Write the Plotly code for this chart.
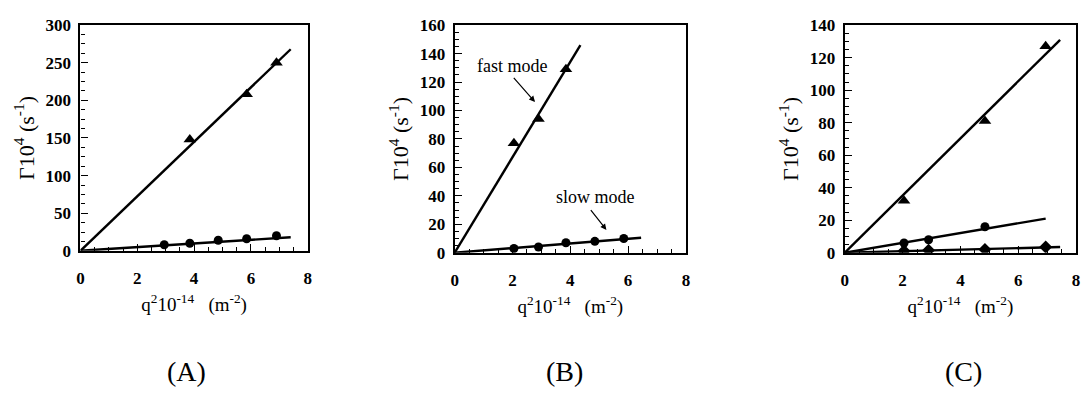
import plotly.graph_objects as go

W, H = 1083, 396

# ---- data ----
# Panel A
a_fast_q = [3.85, 5.85, 6.9]
a_fast_g = [148, 208, 250]
a_slow_q = [2.95, 3.85, 4.85, 5.85, 6.9]
a_slow_g = [8, 10, 14, 16, 20]
a_fast_fit = ([0, 7.4], [0, 268])
a_slow_fit = ([0, 7.4], [0, 18])

# Panel B
b_fast_q = [2.05, 2.9, 3.85]
b_fast_g = [77, 94, 129]
b_slow_q = [2.05, 2.9, 3.85, 4.85, 5.85]
b_slow_g = [3, 4, 7, 8, 10]
b_fast_fit = ([0, 4.35], [0, 146])
b_slow_fit = ([0, 6.45], [0, 10.5])

# Panel C
c_fast_q = [2.05, 4.85, 6.95]
c_fast_g = [32, 81, 127]
c_mid_q = [2.05, 2.9, 4.85]
c_mid_g = [6, 8, 16]
c_slow_q = [2.05, 2.9, 4.85, 6.95]
c_slow_g = [1, 1.5, 2, 3.5]
c_fast_fit = ([0, 7.45], [0, 131])
c_mid_fit = ([0, 6.95], [0, 21])
c_slow_fit = ([0, 7.45], [0, 3.5])

x_ticks = [0, 2, 4, 6, 8]
a_yticks = [0, 50, 100, 150, 200, 250, 300]
b_yticks = [0, 20, 40, 60, 80, 100, 120, 140, 160]
c_yticks = [0, 20, 40, 60, 80, 100, 120, 140]
panel_labels = ["(A)", "(B)", "(C)"]

# ---- layout geometry (pixels) ----
boxes = [  # left, right, top, bottom
    (77, 306, 17, 254),
    (454, 687, 17, 256),
    (847, 1080, 17, 256),
]
label_cx = [184, 565, 967]

FONT = "Liberation Serif"
fig = go.Figure()

def line(xs, ys, ax):
    fig.add_trace(go.Scatter(x=xs, y=ys, mode="lines", line=dict(color="black", width=2.4),
                             xaxis="x" + ax, yaxis="y" + ax, showlegend=False, hoverinfo="skip"))

def pts(xs, ys, sym, size, ax):
    fig.add_trace(go.Scatter(x=xs, y=ys, mode="markers",
                             marker=dict(symbol=sym, size=size, color="black"),
                             xaxis="x" + ax, yaxis="y" + ax, showlegend=False))

line(*a_fast_fit, "")
line(*a_slow_fit, "")
pts(a_fast_q, a_fast_g, "triangle-up", 11, "")
pts(a_slow_q, a_slow_g, "circle", 9, "")

line(*b_fast_fit, "2")
line(*b_slow_fit, "2")
pts(b_fast_q, b_fast_g, "triangle-up", 11, "2")
pts(b_slow_q, b_slow_g, "circle", 9, "2")

line(*c_fast_fit, "3")
line(*c_mid_fit, "3")
line(*c_slow_fit, "3")
pts(c_fast_q, c_fast_g, "triangle-up", 11, "3")
pts(c_mid_q, c_mid_g, "circle", 9, "3")
pts(c_slow_q, c_slow_g, "diamond", 10, "3")

yranges = [(0, 300, a_yticks), (0, 160, b_yticks), (0, 140, c_yticks)]
xtitle = "q<sup>2</sup>10<sup>-14</sup>   (m<sup>-2</sup>)"
ytitle = "Γ10<sup>4</sup> (s<sup>-1</sup>)"
for i, (l, r, t, b) in enumerate(boxes):
    sfx = "" if i == 0 else str(i + 1)
    y0, y1, yt = yranges[i]
    common = dict(showline=True, linecolor="black", linewidth=2.2, mirror=True,
                  ticks="inside", ticklen=7, tickwidth=1.3, tickcolor="black",
                  showgrid=False, zeroline=False)
    fig.update_layout({
        "xaxis" + sfx: dict(common, domain=[l / W, r / W], range=[0, 8], tickvals=x_ticks,
                            anchor="y" + sfx, ticklabelstandoff=11,
                            tickfont=dict(family=FONT, size=17, color="black", weight="bold"),
                            minor=dict(ticks="inside", ticklen=4, tickcolor="black", dtick=0.5),
                            title=dict(text=xtitle, font=dict(family=FONT, size=19, color="black"),
                                       standoff=10)),
        "yaxis" + sfx: dict(common, domain=[1 - b / H, 1 - t / H], range=[y0, y1], tickvals=yt,
                            anchor="x" + sfx, ticklabelstandoff=4,
                            tickfont=dict(family=FONT, size=17, color="black", weight="bold"),
                            minor=dict(ticks="inside", ticklen=4, tickcolor="black",
                                       dtick=(yt[1] - yt[0]) / 4),
                            title=dict(text=ytitle, font=dict(family=FONT, size=22, color="black"),
                                       standoff=5)),
    })
    fig.add_annotation(text=panel_labels[i], xref="paper", yref="paper",
                       x=label_cx[i] / W, y=1 - 381 / H, xanchor="center", yanchor="middle",
                       showarrow=False, font=dict(family=FONT, size=28, color="black"))

# annotations panel B
fig.add_annotation(text="fast mode", x=1.99, y=131, xref="x2", yref="y2", showarrow=False,
                   xanchor="center", yanchor="middle",
                   font=dict(family=FONT, size=18, color="black"))
fig.add_annotation(x=2.78, y=106, ax=2.0, ay=124, xref="x2", yref="y2", axref="x2", ayref="y2",
                   text="", showarrow=True, arrowhead=2, arrowsize=1, arrowwidth=1.2, arrowcolor="black")
fig.add_annotation(text="slow mode", x=4.88, y=39.5, xref="x2", yref="y2", showarrow=False,
                   xanchor="center", yanchor="middle",
                   font=dict(family=FONT, size=18, color="black"))
fig.add_annotation(x=5.25, y=16, ax=4.67, ay=31, xref="x2", yref="y2", axref="x2", ayref="y2",
                   text="", showarrow=True, arrowhead=2, arrowsize=1, arrowwidth=1.2, arrowcolor="black")

fig.update_layout(width=W, height=H, margin=dict(l=0, r=0, t=0, b=0),
                  font=dict(family=FONT, color="black"),
                  paper_bgcolor="white", plot_bgcolor="white", showlegend=False)
fig.write_html("out.html")
